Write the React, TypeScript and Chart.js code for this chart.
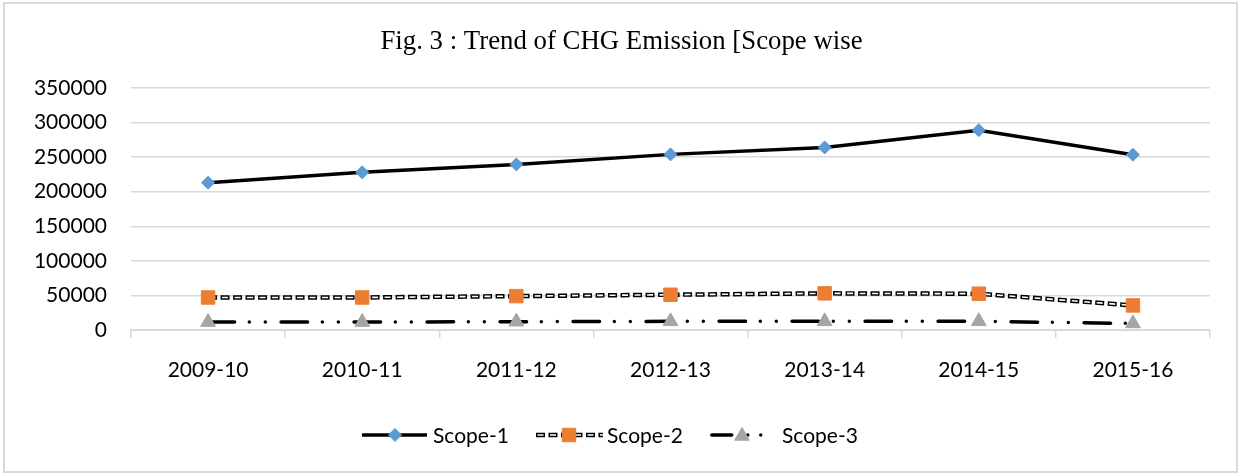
import React, { useEffect, useRef } from "react";
import { Chart, registerables } from "chart.js";

Chart.register(...registerables);

const categories = ["2009-10", "2010-11", "2011-12", "2012-13", "2013-14", "2014-15", "2015-16"];
const scope1 = [213000, 228000, 239500, 254000, 264000, 289000, 253500];
const scope2 = [47000, 47000, 49000, 51000, 53000, 52500, 35500];
const scope3 = [11500, 11500, 12000, 12500, 12500, 12500, 9500];
const seriesLabels = ["Scope-1", "Scope-2", "Scope-3"];
const yTickValues = [0, 50000, 100000, 150000, 200000, 250000, 300000, 350000];
const titleText = "Fig. 3 : Trend of CHG Emission [Scope wise";

const W = 1239;
const H = 473;
const TICK_FONT = { family: "Lato", size: 21 };
const GRID = "#d9d9d9";
const BLUE = "#5B9BD5";
const ORANGE = "#ED7D31";
const GRAY = "#A5A5A5";
const DASH3 = [26.5, 14.75, 0, 16, 0, 15.75];

function drawMarker(ctx: CanvasRenderingContext2D, style: string, x: number, y: number, r: number, color: string) {
  ctx.save();
  ctx.fillStyle = color;
  ctx.strokeStyle = color;
  ctx.lineWidth = 1;
  ctx.setLineDash([]);
  ctx.beginPath();
  if (style === "rectRot") {
    ctx.moveTo(x - r, y);
    ctx.lineTo(x, y - r);
    ctx.lineTo(x + r, y);
    ctx.lineTo(x, y + r);
  } else if (style === "rect") {
    const s = Math.SQRT1_2 * r;
    ctx.rect(x - s, y - s, 2 * s, 2 * s);
  } else {
    let rad = 0;
    ctx.moveTo(x + Math.sin(rad) * r, y - Math.cos(rad) * r);
    rad += (2 * Math.PI) / 3;
    ctx.lineTo(x + Math.sin(rad) * r, y - Math.cos(rad) * r);
    rad += (2 * Math.PI) / 3;
    ctx.lineTo(x + Math.sin(rad) * r, y - Math.cos(rad) * r);
  }
  ctx.closePath();
  ctx.fill();
  ctx.stroke();
  ctx.restore();
}

function strokeDoubleDash(ctx: CanvasRenderingContext2D, pts: { x: number; y: number }[]) {
  ctx.save();
  ctx.beginPath();
  pts.forEach((p, i) => (i ? ctx.lineTo(p.x, p.y) : ctx.moveTo(p.x, p.y)));
  ctx.lineCap = "butt";
  ctx.lineJoin = "round";
  ctx.strokeStyle = "#000";
  ctx.lineWidth = 4.5;
  ctx.setLineDash([9, 3.5]);
  ctx.lineDashOffset = 0;
  ctx.stroke();
  ctx.strokeStyle = "#fff";
  ctx.lineWidth = 1.6;
  ctx.setLineDash([6, 6.5]);
  ctx.lineDashOffset = -1.5;
  ctx.stroke();
  ctx.restore();
}

const customPlugin = {
  id: "customDraw",
  beforeDraw(chart: any) {
    const ctx = chart.ctx as CanvasRenderingContext2D;
    ctx.save();
    ctx.fillStyle = "#fff";
    ctx.fillRect(0, 0, chart.width, chart.height);
    ctx.strokeStyle = GRID;
    ctx.lineWidth = 2;
    ctx.strokeRect(4, 3, chart.width - 6, chart.height - 4);
    ctx.restore();
  },
  beforeDatasetDraw(chart: any, args: any) {
    if (args.index === 1) {
      const meta = chart.getDatasetMeta(1);
      const pts = meta.data.map((p: any) => ({ x: p.x, y: p.y }));
      strokeDoubleDash(chart.ctx, pts);
    }
  },
  afterDraw(chart: any) {
    const ctx = chart.ctx as CanvasRenderingContext2D;
    // title
    ctx.save();
    ctx.fillStyle = "#000";
    ctx.font = "26.8px 'Liberation Serif'";
    ctx.textAlign = "center";
    ctx.textBaseline = "alphabetic";
    ctx.fillText(titleText, chart.width / 2 + 2, 49);
    ctx.restore();

    // legend
    const ly = 435;
    ctx.save();
    ctx.font = "21px Lato";
    ctx.fillStyle = "#000";
    ctx.textBaseline = "middle";
    ctx.textAlign = "left";
    // Scope-1
    ctx.beginPath();
    ctx.moveTo(362, ly);
    ctx.lineTo(427, ly);
    ctx.strokeStyle = "#000";
    ctx.lineWidth = 3.5;
    ctx.stroke();
    drawMarker(ctx, "rectRot", 395, ly, 6.5, BLUE);
    ctx.fillText(seriesLabels[0], 433, ly + 1);
    // Scope-2
    strokeDoubleDash(ctx, [{ x: 536, y: ly }, { x: 603, y: ly }]);
    drawMarker(ctx, "rect", 569, ly, 9.5, ORANGE);
    ctx.fillStyle = "#000";
    ctx.fillText(seriesLabels[1], 607, ly + 1);
    // Scope-3
    ctx.save();
    ctx.beginPath();
    ctx.moveTo(711.75, ly);
    ctx.lineTo(766, ly);
    ctx.strokeStyle = "#000";
    ctx.lineWidth = 3.5;
    ctx.lineCap = "round";
    ctx.setLineDash([20, 16, 0, 13, 0, 20]);
    ctx.stroke();
    ctx.restore();
    drawMarker(ctx, "triangle", 742, ly + 1, 8.5, GRAY);
    ctx.fillStyle = "#000";
    ctx.fillText(seriesLabels[2], 782, ly + 1);
    ctx.restore();
  },
};

export default function App() {
  const ref = useRef<HTMLCanvasElement | null>(null);

  useEffect(() => {
    const canvas = ref.current;
    if (!canvas) return;
    const chart = new Chart(canvas, {
      type: "line",
      data: {
        labels: categories,
        datasets: [
          {
            label: seriesLabels[0],
            data: scope1,
            borderColor: "#000",
            borderWidth: 3.5,
            pointStyle: "rectRot",
            pointRadius: 6.5,
            pointBackgroundColor: BLUE,
            pointBorderColor: BLUE,
            pointBorderWidth: 1,
            tension: 0,
          },
          {
            label: seriesLabels[1],
            data: scope2,
            showLine: false,
            borderColor: "#000",
            pointStyle: "rect",
            pointRadius: 9.5,
            pointBackgroundColor: ORANGE,
            pointBorderColor: ORANGE,
            pointBorderWidth: 1,
          },
          {
            label: seriesLabels[2],
            data: scope3,
            borderColor: "#000",
            borderWidth: 3.5,
            borderDash: DASH3,
            borderCapStyle: "round",
            pointStyle: "triangle",
            pointRadius: 8.5,
            pointBackgroundColor: GRAY,
            pointBorderColor: GRAY,
            pointBorderWidth: 1,
            tension: 0,
          },
        ],
      },
      options: {
        responsive: false,
        animation: false,
        devicePixelRatio: 1,
        layout: { padding: { top: 88, right: 29, left: 0, bottom: 0 } },
        plugins: {
          legend: { display: false },
          title: { display: false },
          tooltip: { enabled: false },
        },
        scales: {
          x: {
            type: "category",
            offset: true,
            grid: {
              display: true,
              drawOnChartArea: false,
              drawTicks: true,
              tickLength: 8,
              color: GRID,
              lineWidth: 1.5,
              offset: true,
            },
            border: { display: true, color: GRID, width: 2 },
            ticks: { color: "#000", font: TICK_FONT, padding: 20, maxRotation: 0, autoSkip: false },
            afterFit: (s: any) => {
              s.height = H - 330;
            },
          },
          y: {
            min: 0,
            max: 350000,
            afterBuildTicks: (s: any) => {
              s.ticks = yTickValues.map((v) => ({ value: v }));
            },
            ticks: {
              color: "#000",
              font: TICK_FONT,
              padding: 24,
              callback: (v: any) => String(v),
            },
            grid: { color: GRID, lineWidth: 1.5, drawTicks: false },
            border: { display: false },
            afterFit: (s: any) => {
              s.width = 131;
            },
          },
        },
      },
      plugins: [customPlugin],
    } as any);
    return () => chart.destroy();
  }, []);

  return (
    <div style={{ position: "fixed", left: 0, top: 0, width: W, height: H, background: "#fff" }}>
      <canvas ref={ref} width={W} height={H} style={{ width: W, height: H, display: "block" }} />
    </div>
  );
}
